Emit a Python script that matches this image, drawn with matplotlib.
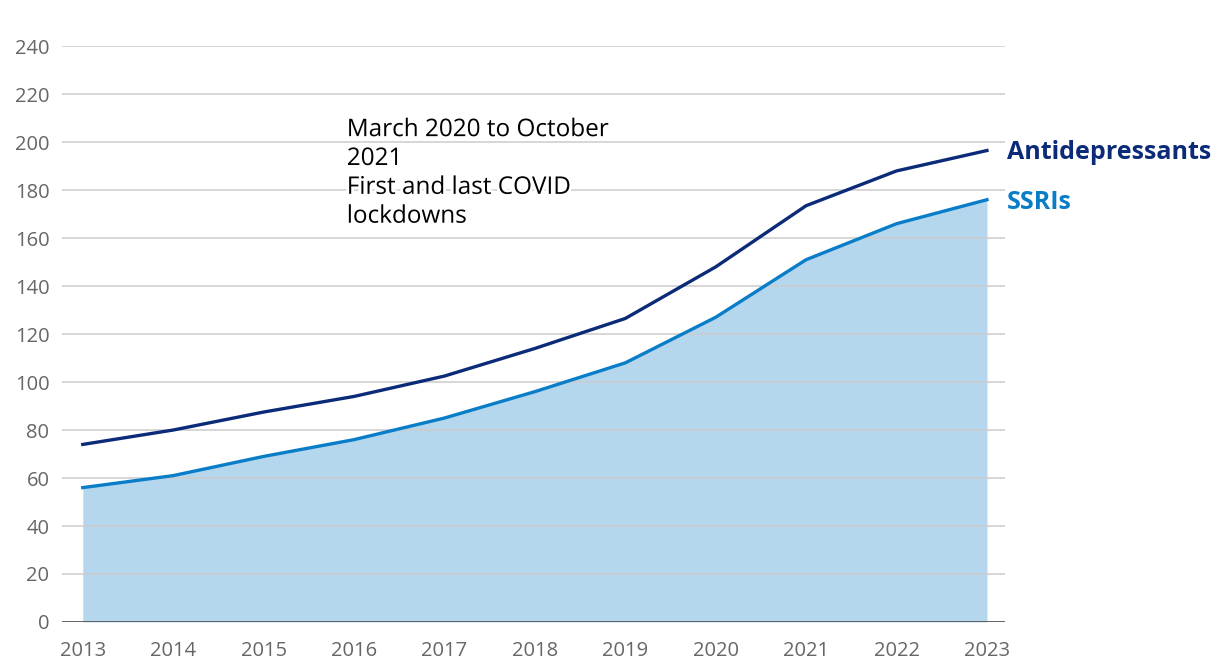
import matplotlib
matplotlib.use("Agg")
import matplotlib.pyplot as plt
import matplotlib.patheffects as pe

years = [2013, 2014, 2015, 2016, 2017, 2018, 2019, 2020, 2021, 2022, 2023]
antidepressants = [74, 80, 87.5, 94, 102.5, 114, 126.5, 148, 173.5, 188, 196.5]
ssris = [56, 61, 69, 76, 85, 96, 108, 127, 151, 166, 176]
y_ticks = list(range(0, 241, 20))

navy = "#0b2a78"
blue = "#0a7dc8"
fill = "#b4d7ee"
grey = "#666666"

plt.rcParams['font.family'] = ['Open Sans', 'DejaVu Sans']

fig = plt.figure(figsize=(12.2, 6.68), dpi=100)
ax = fig.add_axes([0.0508, 0.0689, 0.773, 0.862])

ax.fill_between(years, 0, ssris, color=fill, lw=0, zorder=1)
ax.plot(years, antidepressants, color=navy, lw=2.4, zorder=3)
ax.plot(years, ssris, color=blue, lw=2.4, zorder=3)

ax.set_xlim(2012.77, 2023.2)
ax.set_ylim(0, 240)
ax.set_yticks(y_ticks)
ax.set_xticks(years)
for y in y_ticks[1:]:
    ax.axhline(y, color="#cccccc", lw=1.1, zorder=2)
ax.axhline(0, color="#555555", lw=2, zorder=4)

for s in ax.spines.values():
    s.set_visible(False)
ax.tick_params(length=0, labelsize=14.5, labelcolor=grey)
ax.tick_params(axis='x', pad=14)
ax.tick_params(axis='y', pad=9)
for lbl in ax.get_yticklabels():
    lbl.set_horizontalalignment('right')

ax.text(1.002, antidepressants[-1] - 1, "Antidepressants", transform=ax.get_yaxis_transform(),
        color=navy, fontsize=18, fontweight="bold", va="center", ha="left")
ax.text(1.002, ssris[-1] - 1, "SSRIs", transform=ax.get_yaxis_transform(),
        color=blue, fontsize=18, fontweight="bold", va="center", ha="left")

ax.text(2015.92, 210, "March 2020 to October\n2021\nFirst and last COVID\nlockdowns",
        fontsize=17.5, color="black", va="top", ha="left", linespacing=1.27, zorder=5,
        path_effects=[pe.withStroke(linewidth=4, foreground="white")])

fig.savefig("out.png", dpi=100)
